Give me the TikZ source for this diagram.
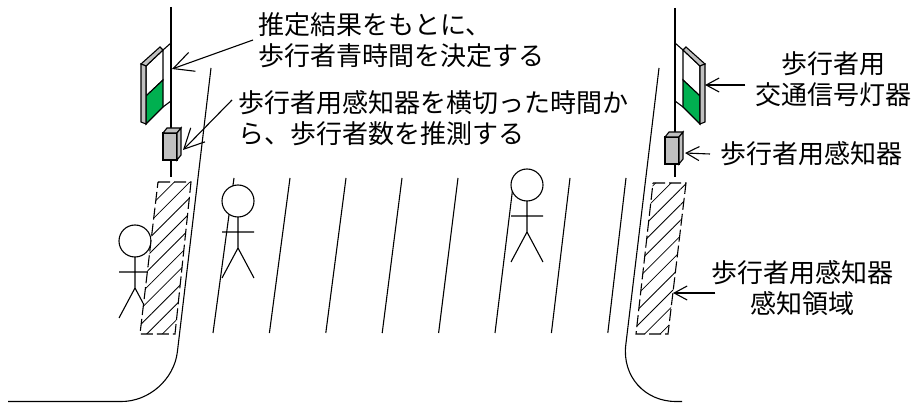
\documentclass[tikz,border=0pt]{standalone}
\usepackage{fontspec}
\newfontfamily\jp{Noto Sans CJK JP}
\usepackage{xcolor}
\usetikzlibrary{arrows.meta,patterns.meta}

\definecolor{walkgreen}{RGB}{0,176,80}
\definecolor{boxgray}{RGB}{192,192,192}

\tikzset{
  % stick figure, origin at the centre of the head
  walker/.pic={
    \draw[fill=white] (0,0) circle (16pt);
    \draw (0,16) -- (0,47) (-16,31) -- (16,31) (-16,77) -- (0,47) -- (16,77);
  },
  % pedestrian signal head hanging right of its pole
  lamp/.pic={
    \draw (0,43) -- (8,50) (0,101) -- (8,107);
    \draw[fill=white] (8,50) -- (25,66) -- (25,96) -- (8,80) -- cycle;
    \draw[fill=walkgreen] (8,80) -- (25,96) -- (25,124) -- (8,107) -- cycle;
    \draw[fill=boxgray] (8,50) -- (11,47) -- (30,64) -- (25,66) -- cycle;
    \draw[fill=boxgray] (25,66) -- (30,64) -- (30,122) -- (25,124) -- cycle;
  },
  % detector box
  sensor/.pic={
    \draw[fill=boxgray] (0,0) rectangle (14,27);
    \draw[fill=boxgray] (0,0) -- (4,-5) -- (18,-5) -- (14,0) -- cycle;
    \draw[fill=boxgray] (14,0) -- (18,-5) -- (18,22) -- (14,27) -- cycle;
  }
}

\begin{document}
\begin{tikzpicture}[x=1pt,y=-1pt,line width=1.1pt,
    note/.style={font=\jp\fontsize{26}{31}\selectfont,inner sep=0pt},
    big/.style={-{Straight Barb[length=20pt,width=20pt]}},
    small/.style={-{Straight Barb[length=13pt,width=14pt]}},
    zone/.style={dash pattern=on 12pt off 4pt},
    hatch/.style={pattern={Lines[angle=45,distance=11pt,line width=.8pt]}}]
  \useasboundingbox (0,0) rectangle (916,403);

  % kerbs
  \draw[rounded corners=50pt] (211,68) -- (171.5,401.5) -- (8,401.5);
  \draw[rounded corners=57pt] (659,68) -- (619,401.5) -- (682,401.5);

  % crossing stripes
  \foreach \i in {0,...,7}
    \draw (234+56*\i,178) -- (213+56.4*\i,333);

  \pic at (135,241) {walker};
  \pic at (238,201) {walker};
  \pic at (527,185) {walker};

  % detection areas
  \fill[white] (158,182) -- (191,182) -- (175,334) -- (140,334) -- cycle;
  \fill[hatch] (158,182) -- (191,182) -- (175,334) -- (140,334) -- cycle;
  \draw[zone] (158,182) -- (191,182) -- (175,334) -- (140,334) -- cycle;
  \fill[white] (653,183) -- (686,183) -- (668,334) -- (636,334) -- cycle;
  \fill[hatch] (653,183) -- (686,183) -- (668,334) -- (636,334) -- cycle;
  \draw[zone] (653,183) -- (686,183) -- (668,334) -- (636,334) -- cycle;

  % poles
  \draw (171,7) -- (171,177);
  \draw (675,8) -- (675,177);
  \pic[xscale=-1] at (171,0) {lamp};
  \pic at (675,0) {lamp};
  \pic at (163,133) {sensor};
  \pic at (665,137) {sensor};

  \coordinate (poleL) at (172,69);
  \coordinate (sensL) at (183,150);
  \coordinate (lampR) at (705,85);
  \coordinate (sensR) at (685,153);
  \coordinate (areaR) at (673,293);

  \node[note,anchor=west,align=left] (timenote) at (258,40) {推定結果をもとに、\\歩行者青時間を決定する};
  \node[note,anchor=west,align=left] (countnote) at (238,118) {歩行者用感知器を横切った時間か\\ら、歩行者数を推測する};
  \node[note,align=center] (lampnote) at (833,79) {歩行者用\\交通信号灯器};
  \node[note,anchor=west] (sensornote) at (720,154) {歩行者用感知器};
  \node[note,align=center] (areanote) at (802,288) {歩行者用感知器\\感知領域};

  \draw[big] ([xshift=-5pt]timenote.west) -- (poleL);
  \draw[big] ([xshift=-6pt,yshift=18pt]countnote.west) -- (sensL);
  \draw[small] ([xshift=-9pt,yshift=-6pt]lampnote.west) -- (lampR);
  \draw[small] ([xshift=-10pt]sensornote.west) -- (sensR);
  \draw[small] ([xshift=5pt,yshift=-5pt]areanote.west) -- (areaR);
\end{tikzpicture}
\end{document}
